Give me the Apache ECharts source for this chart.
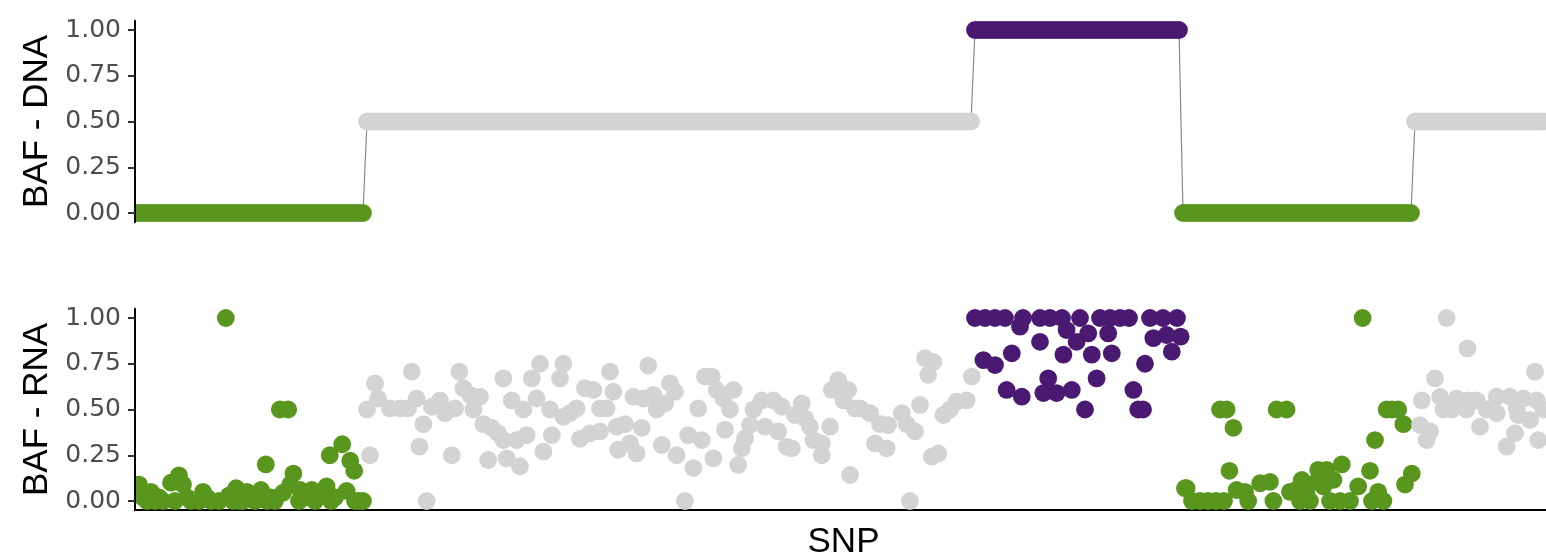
<!DOCTYPE html>
<html>
<head>
<meta charset="utf-8">
<script src="https://cdn.jsdelivr.net/npm/echarts@6/dist/echarts.min.js"></script>
<style>
html,body{margin:0;padding:0;background:#fff;}
#chart{width:1546px;height:559px;}
</style>
</head>
<body>
<div id="chart"></div>
<script>
// ---- DNA BAF segments (SNP index ranges) ----
const segStart = [0, 58, 210, 262, 320];
const segEnd   = [57, 209, 261, 319, 356];
const segDNA   = [0, 0.5, 1, 0, 0.5];
const segGroup = [0, 1, 2, 0, 1];            // 0 = green, 1 = grey, 2 = purple
const groupColors = ['#58961E', '#D3D3D3', '#4A1A72'];

const yTicks = [0, 0.25, 0.5, 0.75, 1];
const xMax = 352.75;

// ---- RNA BAF points: [SNP position, BAF] ----
const rnaGreen1 = [[0,0.05],[1,0.09],[2,0.02],[3,0],[4,0.05],[5,0],[6,0.02],[7,0],[9,0.10],[10,0],
 [11,0.14],[12,0.09],[13,0.02],[14,0],[16,0],[17,0.05],[18,0.02],[19,0],[21,0],[22.7,1.0],
 [23.5,0.03],[24.5,0],[25.3,0.07],[26,0],[27,0],[28,0.05],[29,0.02],[30,0],[31.5,0.06],[32.7,0.2],
 [33,0],[34,0.02],[35,0],[36.2,0.5],[37,0.045],[38.3,0.5],[38.8,0.09],[39.6,0.15],[41,0],[41.3,0.06],
 [43,0.02],[44.2,0.06],[45,0],[46,0.03],[47.9,0.08],[48.7,0.25],[49,0],[50,0.02],[51.8,0.31],[52.9,0.055],
 [53.8,0.22],[54.8,0.165],[55,0],[56,0],[57,0]];

const rnaGray1 = [[58,0.5],[58.75,0.25],[60,0.643],[60.75,0.56],[63.75,0.506],[66.25,0.506],[68.25,0.506],
 [69.2,0.707],[70.4,0.56],[71.1,0.297],[72.1,0.42],[72.9,0],[74.2,0.515],[76.25,0.55],[77.5,0.48],
 [79.2,0.25],[80,0.506],[81.1,0.707],[82.1,0.616],[83.75,0.58],[84.6,0.5],[86.25,0.57],[87.1,0.42],
 [88.3,0.224],[89.2,0.4],[90.8,0.37],[92.1,0.67],[92.1,0.333],[92.9,0.233],[94.2,0.55],[95.4,0.333],
 [96.25,0.19],[97.1,0.5],[97.9,0.36],[99.2,0.67],[100.4,0.56],[101.25,0.75],[102.1,0.27],[103.75,0.5],
 [104.2,0.36],[106.25,0.67],[107.1,0.75],[107.1,0.46],[108.75,0.48],[110.4,0.506],[111.25,0.34],
 [112.5,0.616],[113.75,0.37],[114.6,0.607],[116.25,0.38],[116.25,0.506],[117.9,0.506],[118.75,0.707],
 [119.6,0.597],[120.4,0.406],[120.8,0.28],[122.5,0.42],[123.75,0.315],[124.6,0.57],[125.4,0.26],
 [126.7,0.4],[127.1,0.56],[128.3,0.74],[129.6,0.58],[130.4,0.5],[131.7,0.306],[132.5,0.534],
 [133.75,0.643],[135,0.597],[135.4,0.25],[137.5,0],[138.3,0.36],[139.6,0.18],[140.8,0.506],[141.7,0.333],
 [142.5,0.68],[144.2,0.68],[144.6,0.233],[145.4,0.607],[147.1,0.56],[147.5,0.39],[148.75,0.5],
 [149.6,0.607],[150.8,0.197],[151.7,0.288],[152.5,0.342],[153.75,0.415],[154.6,0.5],[156.7,0.55],
 [157.5,0.406],[159.6,0.55],[160.8,0.38],[161.7,0.515],[162.9,0.297],[164.2,0.288],[165,0.47],
 [166.7,0.534],[167.5,0.452],[168.75,0.406],[169.6,0.333],[171.7,0.315],[171.7,0.25],[173.75,0.406],
 [174.2,0.607],[175.8,0.66],[177.1,0.55],[178.3,0.607],[178.75,0.142],[180,0.506],[181.25,0.506],
 [183.75,0.48],[185,0.315],[186.25,0.42],[187.9,0.288],[188.3,0.415],[191.7,0.48],[192.9,0.42],
 [193.75,0],[195,0.38],[196.25,0.525],[197.5,0.78],[198.3,0.69],[199.2,0.242],[199.6,0.76],[200.8,0.26],
 [202.1,0.47],[203.75,0.5],[205.4,0.543],[207.9,0.55],[209.2,0.68]];

const rnaPurple = [[210,1],[212.1,0.77],[212.5,1],[215,1],[215,0.743],[217.5,1],[217.9,0.607],[219.2,0.807],
 [221.25,0.953],[221.7,0.57],[222,1],[226.25,1],[226.25,0.87],[227.1,0.59],[228.3,0.67],[228.75,1],
 [230.4,0.59],[231.75,1],[232.1,0.8],[232.9,0.934],[234.2,0.607],[235.4,0.87],[236.25,1],[237.5,0.5],
 [238.3,0.916],[239.2,0.8],[240.4,0.67],[241.25,1],[243.3,0.916],[243.75,1],[244.2,0.807],[246.25,1],
 [248.5,1],[249.6,0.607],[250.8,0.5],[252,0.5],[252.5,0.75],[253.75,1],[254.6,0.89],[257,1],
 [257.9,0.907],[259.2,0.816],[260.5,1],[261.4,0.898]];

const rnaGreen2 = [[262.5,0.07],[262.9,0.07],[264.25,0],[266.25,0],[268.25,0],[270.25,0],[271.25,0.5],
 [272.25,0],[272.9,0.5],[273.6,0.165],[274.6,0.4],[275.4,0.06],[277.5,0.05],[278.3,0],[281.3,0.097],
 [283.75,0.105],[284.6,0],[285.4,0.5],[287.9,0.5],[288.75,0.05],[290.8,0.07],[291.25,0],[291.7,0.115],
 [292.9,0.04],[293.75,0],[295.4,0.105],[295.8,0.17],[297.1,0.08],[297.9,0.17],[298.75,0],[299.6,0.115],
 [301.25,0],[301.7,0.2],[303.75,0],[305.8,0.08],[306.9,1.0],[308.75,0.165],[309.25,0],[310,0.333],
 [310.8,0.05],[312.1,0],[312.9,0.5],[314.25,0.5],[315.8,0.5],[317.1,0.42],[317.5,0.09],[319.2,0.15]];

const rnaGray2 = [[321.25,0.415],[321.7,0.55],[322.9,0.333],[323.75,0.38],[325,0.67],[326.25,0.57],
 [327.1,0.5],[327.9,1.0],[329.2,0.5],[330.4,0.56],[332.9,0.5],[333.1,0.834],[333.3,0.55],[335.4,0.55],
 [336.25,0.406],[337.9,0.5],[340.4,0.57],[340.4,0.48],[342.9,0.297],[343.75,0.57],[345,0.37],
 [345.4,0.506],[345.8,0.47],[347.1,0.56],[348.75,0.443],[350,0.707],[350.4,0.55],[350.8,0.333],[352.1,0.5]];

// ---- build series data ----
const dnaPoints = [];
for (let k = 0; k < segStart.length; k++) {
  for (let i = segStart[k]; i <= segEnd[k]; i++) dnaPoints.push([i, segDNA[k], segGroup[k]]);
}
const rnaSets = [[rnaGreen1, 0], [rnaGray1, 1], [rnaPurple, 2], [rnaGreen2, 0], [rnaGray2, 1]];
const rnaPoints = [];
rnaSets.forEach(([arr, g]) => arr.forEach(p => rnaPoints.push([p[0], p[1], g])));

const R = 8.9;
function dot(params, api) {
  const c = api.coord([api.value(0), api.value(1)]);
  return {type: 'circle', shape: {cx: c[0], cy: c[1], r: R},
          style: {fill: groupColors[api.value(2)]}};
}

const tickFont = {fontFamily: 'DejaVu Sans', fontSize: 25, color: '#4D4D4D'};
function yAxisFor(gridIndex, name) {
  return {
    gridIndex, type: 'value', min: -0.05, max: 1.05, z: 10,
    name, nameLocation: 'middle', nameGap: 80, nameRotate: 90,
    nameTextStyle: {fontFamily: 'Liberation Sans', fontSize: 35, color: '#000'},
    axisLine: {show: true, lineStyle: {color: '#000', width: 2}},
    axisTick: {show: true, length: 7, lineStyle: {color: '#333', width: 2}, customValues: yTicks},
    axisLabel: Object.assign({margin: 14, customValues: yTicks,
                 formatter: v => v.toFixed(2)}, tickFont),
    splitLine: {show: false}
  };
}

const chart = echarts.init(document.getElementById('chart'), null, {renderer: 'canvas'});
chart.setOption({
  animation: false,
  backgroundColor: '#fff',
  grid: [
    {left: 135, right: 0, top: 20.85, height: 201.3, outerBoundsMode: 'none', containLabel: false},
    {left: 135, right: 0, top: 308.85, height: 201.3, outerBoundsMode: 'none', containLabel: false}
  ],
  xAxis: [
    {gridIndex: 0, type: 'value', min: 0, max: xMax, show: false},
    {gridIndex: 1, type: 'value', min: 0, max: xMax,
     name: 'SNP', nameLocation: 'middle', nameGap: 15,
     nameTextStyle: {fontFamily: 'Liberation Sans', fontSize: 35, color: '#000', padding: [0, 0, 0, 6]},
     axisLine: {show: true, onZero: false, lineStyle: {color: '#000', width: 2}},
     axisTick: {show: false}, axisLabel: {show: false}, splitLine: {show: false}}
  ],
  yAxis: [yAxisFor(0, 'BAF - DNA'), yAxisFor(1, 'BAF - RNA')],
  series: [
    {type: 'line', xAxisIndex: 0, yAxisIndex: 0, data: dnaPoints.map(p => [p[0], p[1]]),
     showSymbol: false, symbol: 'none', lineStyle: {color: '#8a8a8a', width: 1.2}, clip: true, z: 1},
    {type: 'custom', xAxisIndex: 0, yAxisIndex: 0, data: dnaPoints, renderItem: dot,
     encode: {x: 0, y: 1}, clip: true, z: 2},
    {type: 'custom', xAxisIndex: 1, yAxisIndex: 1, data: rnaPoints, renderItem: dot,
     encode: {x: 0, y: 1}, clip: true, z: 2}
  ]
});
</script>
</body>
</html>
